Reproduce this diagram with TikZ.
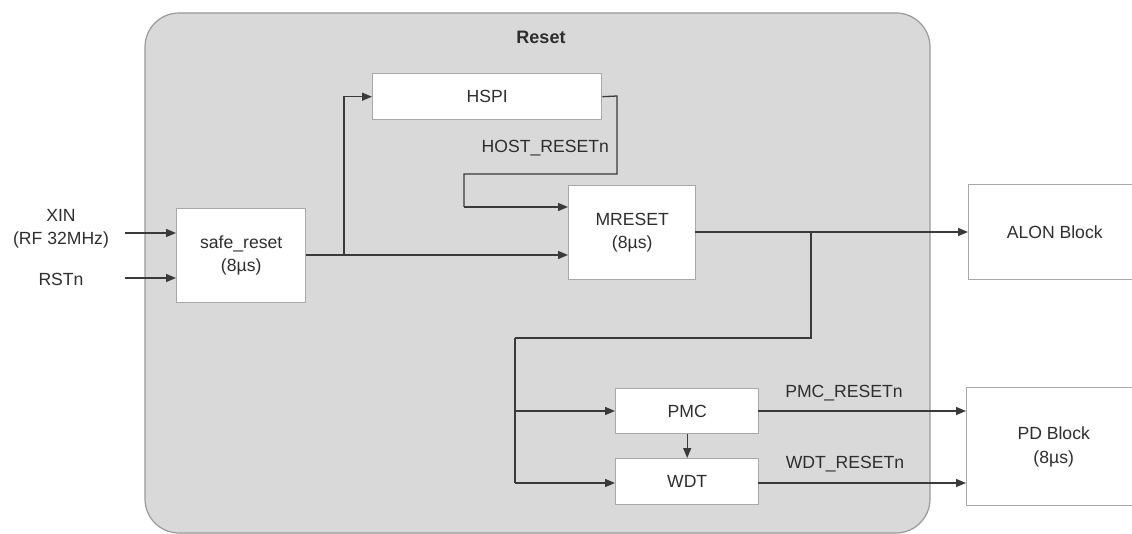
\documentclass[tikz,border=0pt]{standalone}
\usepackage{fontspec}
\setmainfont{Liberation Sans}
\usetikzlibrary{arrows.meta}
\definecolor{panel}{HTML}{D9D9D9}
\definecolor{panelline}{HTML}{9A9A9A}
\definecolor{boxline}{HTML}{A8A8A8}
\definecolor{wire}{HTML}{3A3A3A}
\definecolor{txt}{HTML}{2E2E2E}
\begin{document}
\begin{tikzpicture}[x=1pt,y=-1pt,
  font=\fontsize{17.6}{23.5}\selectfont, text=txt,
  blk/.style={draw=boxline, line width=1.4pt, fill=white, inner sep=0pt, align=center, anchor=north west},
  lbl/.style={inner sep=0pt, align=center},
  wr/.style={draw=wire, line width=1.3pt},
  arr/.style={wr, -{Triangle[length=10pt,width=8pt]}}]
\clip (0,0) rectangle (1132,534);
\fill[white] (0,0) rectangle (1132,534);
% container
\draw[panelline, fill=panel, line width=1.2pt, rounded corners=34pt] (145,13) rectangle (930,533);
\node[lbl, font=\fontsize{18}{20}\selectfont\bfseries] (title) at (541,37) {Reset};
% blocks
\node[blk, minimum width=129pt, minimum height=94pt] (safe) at (176,208) {safe\_reset\\(8µs)};
\node[blk, minimum width=229pt, minimum height=46pt] (hspi) at (372,73) {HSPI};
\node[blk, minimum width=127pt, minimum height=94pt] (mreset) at (568,185) {MRESET\\(8µs)};
\node[blk, minimum width=172pt, minimum height=95pt] (alon) at (968,184) {ALON Block};
\node[blk, minimum width=143pt, minimum height=45pt] (pmc) at (615,388) {PMC};
\node[blk, minimum width=143pt, minimum height=46pt] (wdt) at (615,458) {WDT};
\node[blk, minimum width=174pt, minimum height=118pt] (pd) at (966,387) {PD Block\\(8µs)};
% inputs
\node[lbl] (xin) at (61,229) {XIN\\(RF 32MHz)};
\node[lbl] (rstn) at (61,279) {RSTn};
\coordinate (xinend) at (125,233);
\coordinate (rstend) at (125,278);
\draw[arr] (xinend) -- (xinend -| safe.west);
\draw[arr] (rstend) -- (rstend -| safe.west);
% safe_reset outputs
\coordinate (s1) at (344,255);
\draw[wr] (safe.east |- s1) -- (s1);
\draw[arr] (s1) |- (hspi.west);
\draw[arr] (s1) -- (s1 -| mreset.west);
% HSPI -> MRESET
\coordinate (h1) at (617,96);
\coordinate (h2) at (464,174);
\coordinate (h3) at (464,207);
\draw[wr] (hspi.east) -- (h1) |- (h2) -- (h3);
\draw[arr] (h3) -- (h3 -| mreset.west);
\node[lbl, anchor=east] (hostlbl) at (609,148) {HOST\_RESETn};
% MRESET -> ALON
\coordinate (m1) at (695,232);
\coordinate (b1) at (811,232);
\coordinate (b2) at (811,338);
\coordinate (b3) at (515,338);
\draw[arr] (m1) -- (m1 -| alon.west);
\draw[wr] (b1) -- (b2) -- (b3);
\coordinate (p1) at (515,411);
\coordinate (w1) at (515,483);
\draw[wr] (b3) -- (w1);
\draw[arr] (p1) -- (p1 -| pmc.west);
\draw[arr] (w1) -- (w1 -| wdt.west);
% PMC -> WDT
\draw[arr] (pmc.south) -- (wdt.north);
% outputs to PD
\coordinate (po) at (758,411);
\coordinate (wo) at (758,483);
\draw[arr] (po) -- (po -| pd.west);
\draw[arr] (wo) -- (wo -| pd.west);
\node[lbl] (pmclbl) at (844,393) {PMC\_RESETn};
\node[lbl] (wdtlbl) at (845,464) {WDT\_RESETn};
\end{tikzpicture}
\end{document}
